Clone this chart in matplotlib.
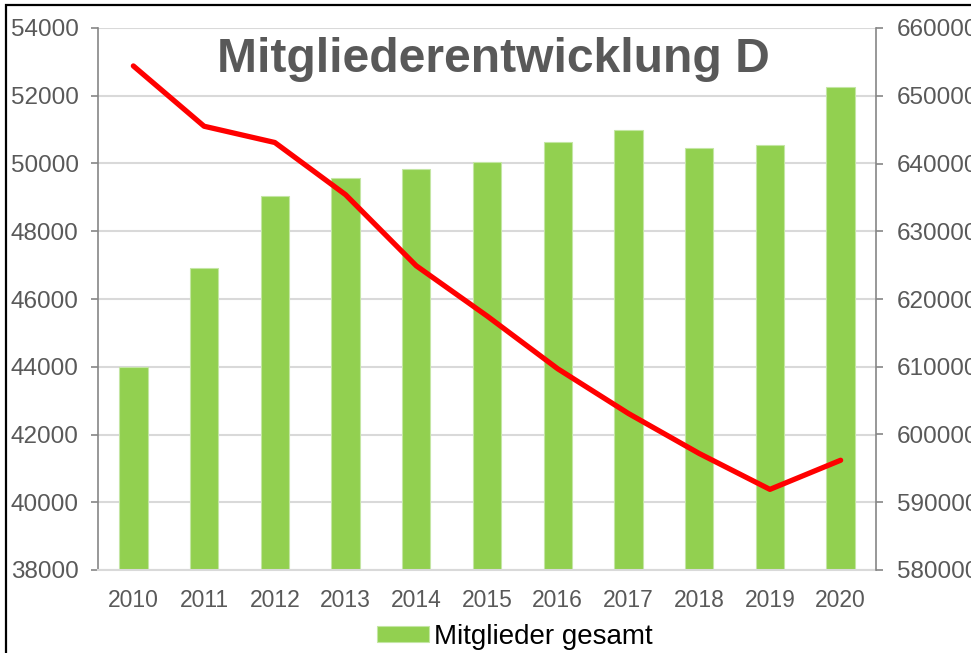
import matplotlib
matplotlib.use("Agg")
import matplotlib.pyplot as plt
from matplotlib.patches import Rectangle
import numpy as np

years = ["2010", "2011", "2012", "2013", "2014", "2015", "2016", "2017", "2018", "2019", "2020"]
mitglieder = [44000, 46920, 49030, 49560, 49830, 50050, 50640, 51000, 50450, 50550, 52260]
line_values = [654400, 645500, 643100, 635400, 624900, 617500, 609700, 603100, 597200, 591900, 596200]
left_ticks = [38000, 40000, 42000, 44000, 46000, 48000, 50000, 52000, 54000]
right_ticks = [580000, 590000, 600000, 610000, 620000, 630000, 640000, 650000, 660000]
title = "Mitgliederentwicklung D"
legend_label = "Mitglieder gesamt"

GRAY = "#595959"
plt.rcParams['font.family'] = ['Liberation Sans', 'DejaVu Sans']

fig = plt.figure(figsize=(9.71, 6.53), dpi=100)
ax = fig.add_axes([98/971, 1 - 570/653, 778/971, 542/653])
x = np.arange(len(years))
bars = ax.bar(x, mitglieder, width=0.4, color="#92D050", edgecolor="#c4e6a4",
              linewidth=0.8, label=legend_label, zorder=2)
ax.set_ylim(38000, 54000)
ax.set_xlim(-0.5, len(years) - 0.5)
ax.set_yticks(left_ticks)
ax.set_yticklabels([str(v) for v in left_ticks])
ax.set_xticks(x)
ax.set_xticklabels(years, fontsize=16.5, color=GRAY)
ax.tick_params(axis='x', length=0, pad=14)
ax.tick_params(axis='y', length=5, width=1.2, color="#868686", labelsize=17.5, labelcolor=GRAY, pad=9)
ax.grid(axis='y', color="#d9d9d9", linewidth=1.5, zorder=0)
ax.set_axisbelow(True)
for s in ['top', 'right']:
    ax.spines[s].set_visible(False)
ax.spines['left'].set_color("#868686")
ax.spines['left'].set_linewidth(1.2)
ax.spines['bottom'].set_color("#d9d9d9")
ax.spines['bottom'].set_linewidth(1.5)

ax2 = ax.twinx()
ax2.plot(x, line_values, color="#FF0000", linewidth=3.8, solid_capstyle='round',
         solid_joinstyle='round', zorder=3)
ax2.set_ylim(580000, 660000)
ax2.set_yticks(right_ticks)
ax2.set_yticklabels([str(v) for v in right_ticks])
ax2.tick_params(axis='y', length=5, width=1.2, color="#868686", labelsize=17.5, labelcolor=GRAY, pad=10)
for s in ['top', 'left', 'bottom']:
    ax2.spines[s].set_visible(False)
ax2.spines['right'].set_color("#868686")
ax2.spines['right'].set_linewidth(1.2)

ax.text(0.5077, 0.919, title, transform=ax.transAxes, ha='center', va='baseline',
        fontsize=34.6, fontweight='bold', color=GRAY, zorder=5)

leg = fig.legend(handles=[bars], labels=[legend_label], loc='center',
                 bbox_to_anchor=(515/971, 1 - 637/653), frameon=False,
                 prop={'size': 20},
                 handlelength=1.87, handleheight=0.5, handletextpad=0.2)

fig.patches.append(Rectangle((6/971, -0.1), 1.2, (1 - 5/653) + 0.1, transform=fig.transFigure,
                             fill=False, edgecolor="black", linewidth=1.6, zorder=10))

fig.savefig("out.png", dpi=100)
